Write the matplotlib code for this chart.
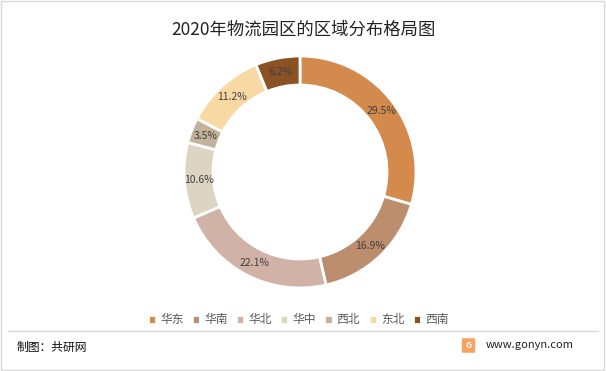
import matplotlib.pyplot as plt
from matplotlib.patches import Rectangle, FancyBboxPatch
from matplotlib.lines import Line2D
import numpy as np

plt.rcParams['font.family'] = ['Noto Sans CJK SC', 'DejaVu Sans']

# datos
regiones = ['华东', '华南', '华北', '华中', '西北', '东北', '西南']
valores = [29.5, 16.9, 22.1, 10.6, 3.5, 11.2, 6.2]
colores = ['#D48A4C', '#BC8E6E', '#D0B2A6', '#DDD5C3', '#C4B29A', '#F8D9A4', '#8B5225']

fig = plt.figure(figsize=(6.06, 3.71), dpi=100)

# marco y linea inferior
fig.add_artist(Rectangle((0.002, 0.003), 0.995, 0.993, transform=fig.transFigure,
                         fill=False, edgecolor='#D9D9D9', linewidth=1))
fig.add_artist(Line2D([0.013, 0.987], [1 - 331 / 371, 1 - 331 / 371],
                      transform=fig.transFigure, color='#D9D9D9', linewidth=1))

cx, cy, r = 300, 172, 116
ax = fig.add_axes([(cx - r) / 606, (371 - cy - r) / 371, 2 * r / 606, 2 * r / 371])
wedges, _ = ax.pie(valores, colors=colores, startangle=90, counterclock=False,
                   radius=1, wedgeprops=dict(width=0.25, edgecolor='white', linewidth=2))

for w, v in zip(wedges, valores):
    mid = np.deg2rad((w.theta1 + w.theta2) / 2)
    ax.text(0.875 * np.cos(mid), 0.875 * np.sin(mid), f'{v}%', ha='center', va='center',
            fontsize=7.5, color='#404040')
ax.set_xlim(-1, 1)
ax.set_ylim(-1, 1)
ax.set_aspect('equal')
ax.axis('off')

fig.text(0.5, 1 - 30 / 371, '2020年物流园区的区域分布格局图', ha='center', va='center',
         fontsize=12.5, color='#222222')

fig.legend(wedges, regiones, loc='center', bbox_to_anchor=(0.492, 1 - 320 / 371), ncol=7,
           frameon=False, fontsize=8.5, handlelength=0.7, handleheight=0.7,
           handletextpad=0.35, columnspacing=0.7, labelcolor='#595959')

fig.text(17 / 606, 1 - 347 / 371, '制图：共研网', ha='left', va='center',
         fontsize=8.5, color='#111111', fontweight='medium')
fig.add_artist(FancyBboxPatch((463 / 606, 1 - 352 / 371), 11 / 606, 13 / 371,
                              boxstyle='round,pad=0.002', transform=fig.transFigure,
                              facecolor='#F4A460', edgecolor='none'))
fig.text(468.5 / 606, 1 - 345.5 / 371, 'G', ha='center', va='center', fontsize=6,
         color='white', fontweight='bold')
fig.text(486 / 606, 1 - 345 / 371, 'www.gonyn.com', ha='left', va='center',
         fontsize=8, color='#222222')

fig.savefig('out.png', dpi=100)
